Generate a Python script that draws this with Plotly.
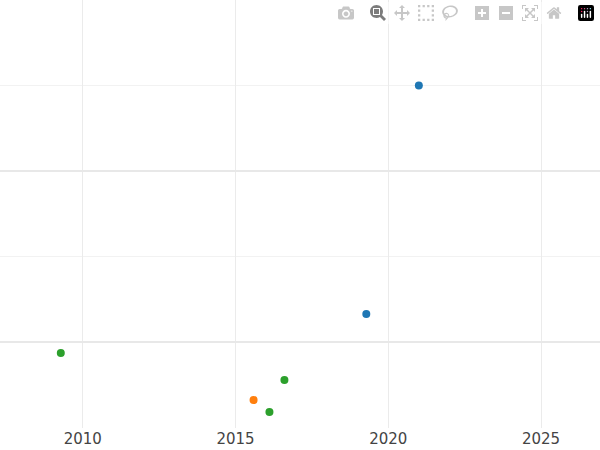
import plotly.graph_objects as go

# points, grouped by colour
blue_x = [2021.0, 2019.28]
blue_y = [2.5, 1.164]
orange_x = [2015.59]
orange_y = [0.661]
green_x = [2009.28, 2016.6, 2016.11]
green_y = [0.936, 0.778, 0.591]

fig = go.Figure()
for xs, ys, c in [(blue_x, blue_y, '#1f77b4'),
                  (orange_x, orange_y, '#ff7f0e'),
                  (green_x, green_y, '#2ca02c')]:
    fig.add_trace(go.Scatter(x=xs, y=ys, mode='markers',
                             marker=dict(color=c, size=8), showlegend=False))

fig.update_layout(
    width=600, height=450,
    margin=dict(l=0, r=0, t=0, b=22),
    plot_bgcolor='white', paper_bgcolor='white',
    font=dict(family='DejaVu Sans, sans-serif', size=15, color='#444'),
    xaxis=dict(range=[2007.29, 2026.93], tickvals=[2010, 2015, 2020, 2025],
               showgrid=True, gridcolor='#ebebeb', gridwidth=1,
               zeroline=False, showline=False, ticks=''),
    yaxis=dict(range=[0.497, 3.0], tickvals=[1, 2], showticklabels=False,
               showgrid=True, gridcolor='#e8e8e8', gridwidth=1.5, zeroline=False,
               minor=dict(tickvals=[1.5, 2.5], showgrid=True,
                          gridcolor='#f2f2f2', gridwidth=1)),
)

fig.write_html("out.html",
               post_script="document.body.style.margin='0';")
